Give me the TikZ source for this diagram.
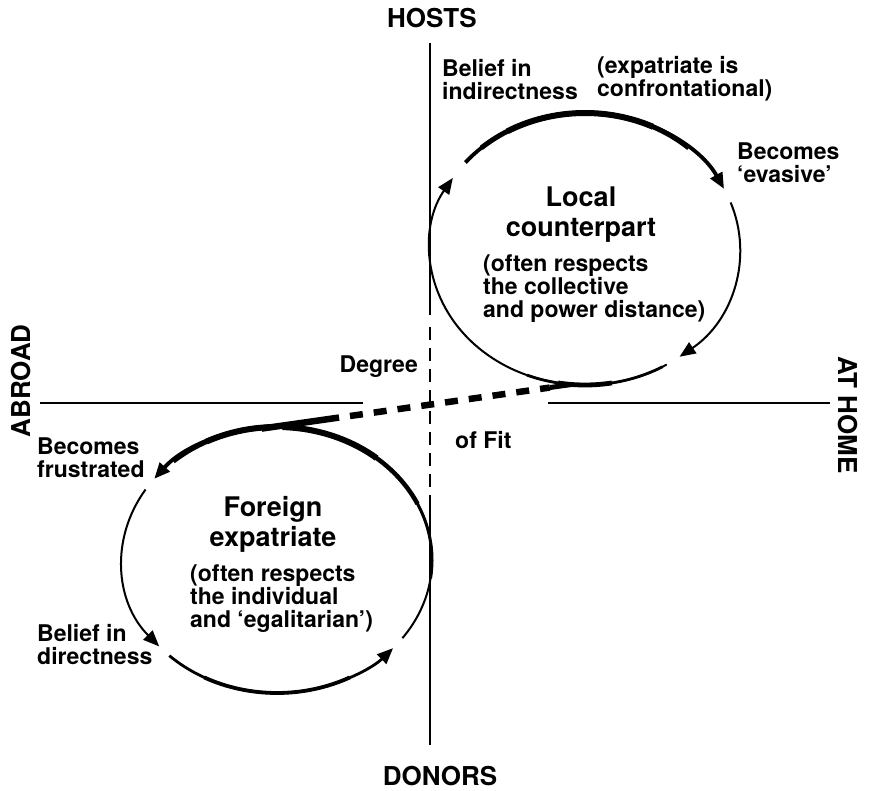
\documentclass[tikz,border=0pt]{standalone}
\usepackage{fontspec}
\setmainfont{TeX Gyre Heros}
\usetikzlibrary{arrows.meta,calc}

\tikzset{
  lbl/.style={font=\bfseries\fontsize{23}{23}\selectfont, align=left, inner sep=0pt, anchor=base west},
  ttl/.style={font=\bfseries\fontsize{27}{30}\selectfont, align=center, inner sep=0pt, anchor=base},
  axlbl/.style={font=\bfseries\fontsize{26}{26}\selectfont, inner sep=0pt, anchor=center},
  axisline/.style={line width=1.4pt},
  loopline/.style={line width=2pt},
  tip/.style={-{Triangle[length=16pt,width=13pt]}},
  fitline/.style={line width=6.5pt},
  % ellipse of the local counterpart loop
  ea/.style={x radius=155, y radius=136},
  % ellipse of the foreign expatriate loop
  eb/.style={x radius=155, y radius=133},
}

\begin{document}
\begin{tikzpicture}[x=1pt,y=-1pt]
\useasboundingbox (0,0) rectangle (871,791);

% ---- axes ----
\coordinate (vtop) at (430,43);
\coordinate (vmidA) at (430,315);
\coordinate (vmidB) at (430,327);
\coordinate (vmidC) at (430,505);
\coordinate (vbot) at (430,745);
\coordinate (hl) at (40,403);
\coordinate (hlend) at (363,403);
\coordinate (hrstart) at (548,403);
\coordinate (hr) at (830,403);
\draw[axisline] (vtop) -- (vmidA);
\draw[axisline, dash pattern=on 13pt off 8pt] (vmidB) -- (vmidC);
\draw[axisline] (vmidC) -- (vbot);
\draw[axisline] (hl) -- (hlend);
\draw[axisline] (hrstart) -- (hr);

\node[axlbl] (hosts) at (432,18.5) {HOSTS};
\node[axlbl] (donors) at (440,776) {DONORS};
\node[axlbl, rotate=90] (abroad) at (21,381) {ABROAD};
\node[axlbl, rotate=-90] (athome) at (848,415) {AT HOME};

% ---- local counterpart loop (clockwise) ----
\coordinate (ctop) at (585,249);
% upper arc, heaviest at the top
\draw[loopline, line width=3.8pt, tip] (ctop) ++(219.5:155 and 136) arc[ea, start angle=219.5, end angle=333.8];
\draw[line width=5pt] (ctop) ++(228:155 and 136) arc[ea, start angle=228, end angle=312];
\draw[line width=6pt] (ctop) ++(240:155 and 136) arc[ea, start angle=240, end angle=296];
% right arc
\draw[loopline, tip] (ctop) ++(340:155 and 136) arc[ea, start angle=340, end angle=412.4];
% lower and left arc
\draw[loopline, tip] (ctop) ++(58.2:155 and 136) arc[ea, start angle=58.2, end angle=211.5];
\draw[line width=2.8pt] (ctop) ++(60:155 and 136) arc[ea, start angle=60, end angle=112];
\draw[line width=4.8pt] (ctop) ++(80:155 and 136) arc[ea, start angle=80, end angle=100];

% ---- foreign expatriate loop (anticlockwise) ----
\coordinate (cbot) at (277,560);
% upper-left arc
\draw[loopline, line width=3.8pt, tip] (cbot) ++(268:155 and 133) arc[eb, start angle=268, end angle=217.6];
\draw[line width=5pt] (cbot) ++(268:155 and 133) arc[eb, start angle=268, end angle=228];
\draw[line width=6pt] (cbot) ++(268:155 and 133) arc[eb, start angle=268, end angle=243];
% left arc
\draw[loopline, tip] (cbot) ++(212:155 and 133) arc[eb, start angle=212, end angle=139.5];
% lower arc
\draw[loopline, line width=2.8pt, tip] (cbot) ++(134:155 and 133) arc[eb, start angle=134, end angle=41.5];
\draw[line width=3.8pt] (cbot) ++(118:155 and 133) arc[eb, start angle=118, end angle=62];
% right arc, widening towards the top
\draw[loopline] (cbot) ++(36:155 and 133) arc[eb, start angle=36, end angle=-88];
\draw[line width=3pt] (cbot) ++(8:155 and 133) arc[eb, start angle=8, end angle=-88];
\draw[line width=4.5pt] (cbot) ++(-25:155 and 133) arc[eb, start angle=-25, end angle=-88];
\draw[line width=6pt] (cbot) ++(-50:155 and 133) arc[eb, start angle=-50, end angle=-88];

% ---- degree of fit ----
\coordinate (fitlow) at ($(cbot)+(268:155 and 133)+(-10,1.5)$);
\coordinate (fithigh) at ($(ctop)+(95:155 and 136)$);
\coordinate (fitA) at ($(fitlow)!0.25!(fithigh)$);
\coordinate (fitB) at ($(fitlow)!0.93!(fithigh)$);
\draw[fitline] (fitlow) -- (fitA);
\draw[fitline, dash pattern=on 13pt off 11pt, dash phase=13pt] (fitA) -- (fitB);
\draw[line width=5pt] (fitB) -- (fithigh);

% ---- texts (placed by the baseline of their last line) ----
\node[ttl] (local) at (581,237) {Local\\counterpart};
\node[lbl] (localnote) at (483,318) {(often respects\\the collective\\and power distance)};
\node[ttl] (foreign) at (273,547) {Foreign\\expatriate};
\node[lbl] (foreignnote) at (190,627) {(often respects\\the individual\\and ‘egalitarian’)};

\node[lbl] (indirect) at (442,100) {Belief in\\indirectness};
\node[lbl] (confront) at (597,97) {(expatriate is\\confrontational)};
\node[lbl] (evasive) at (737,183) {Becomes\\‘evasive’};
\node[lbl] (frustrated) at (37,478) {Becomes\\frustrated};
\node[lbl] (direct) at (37,664) {Belief in\\directness};
\node[lbl, anchor=base east] (degree) at (418,373) {Degree};
\node[lbl] (offit) at (455,449) {of Fit};
\end{tikzpicture}
\end{document}
